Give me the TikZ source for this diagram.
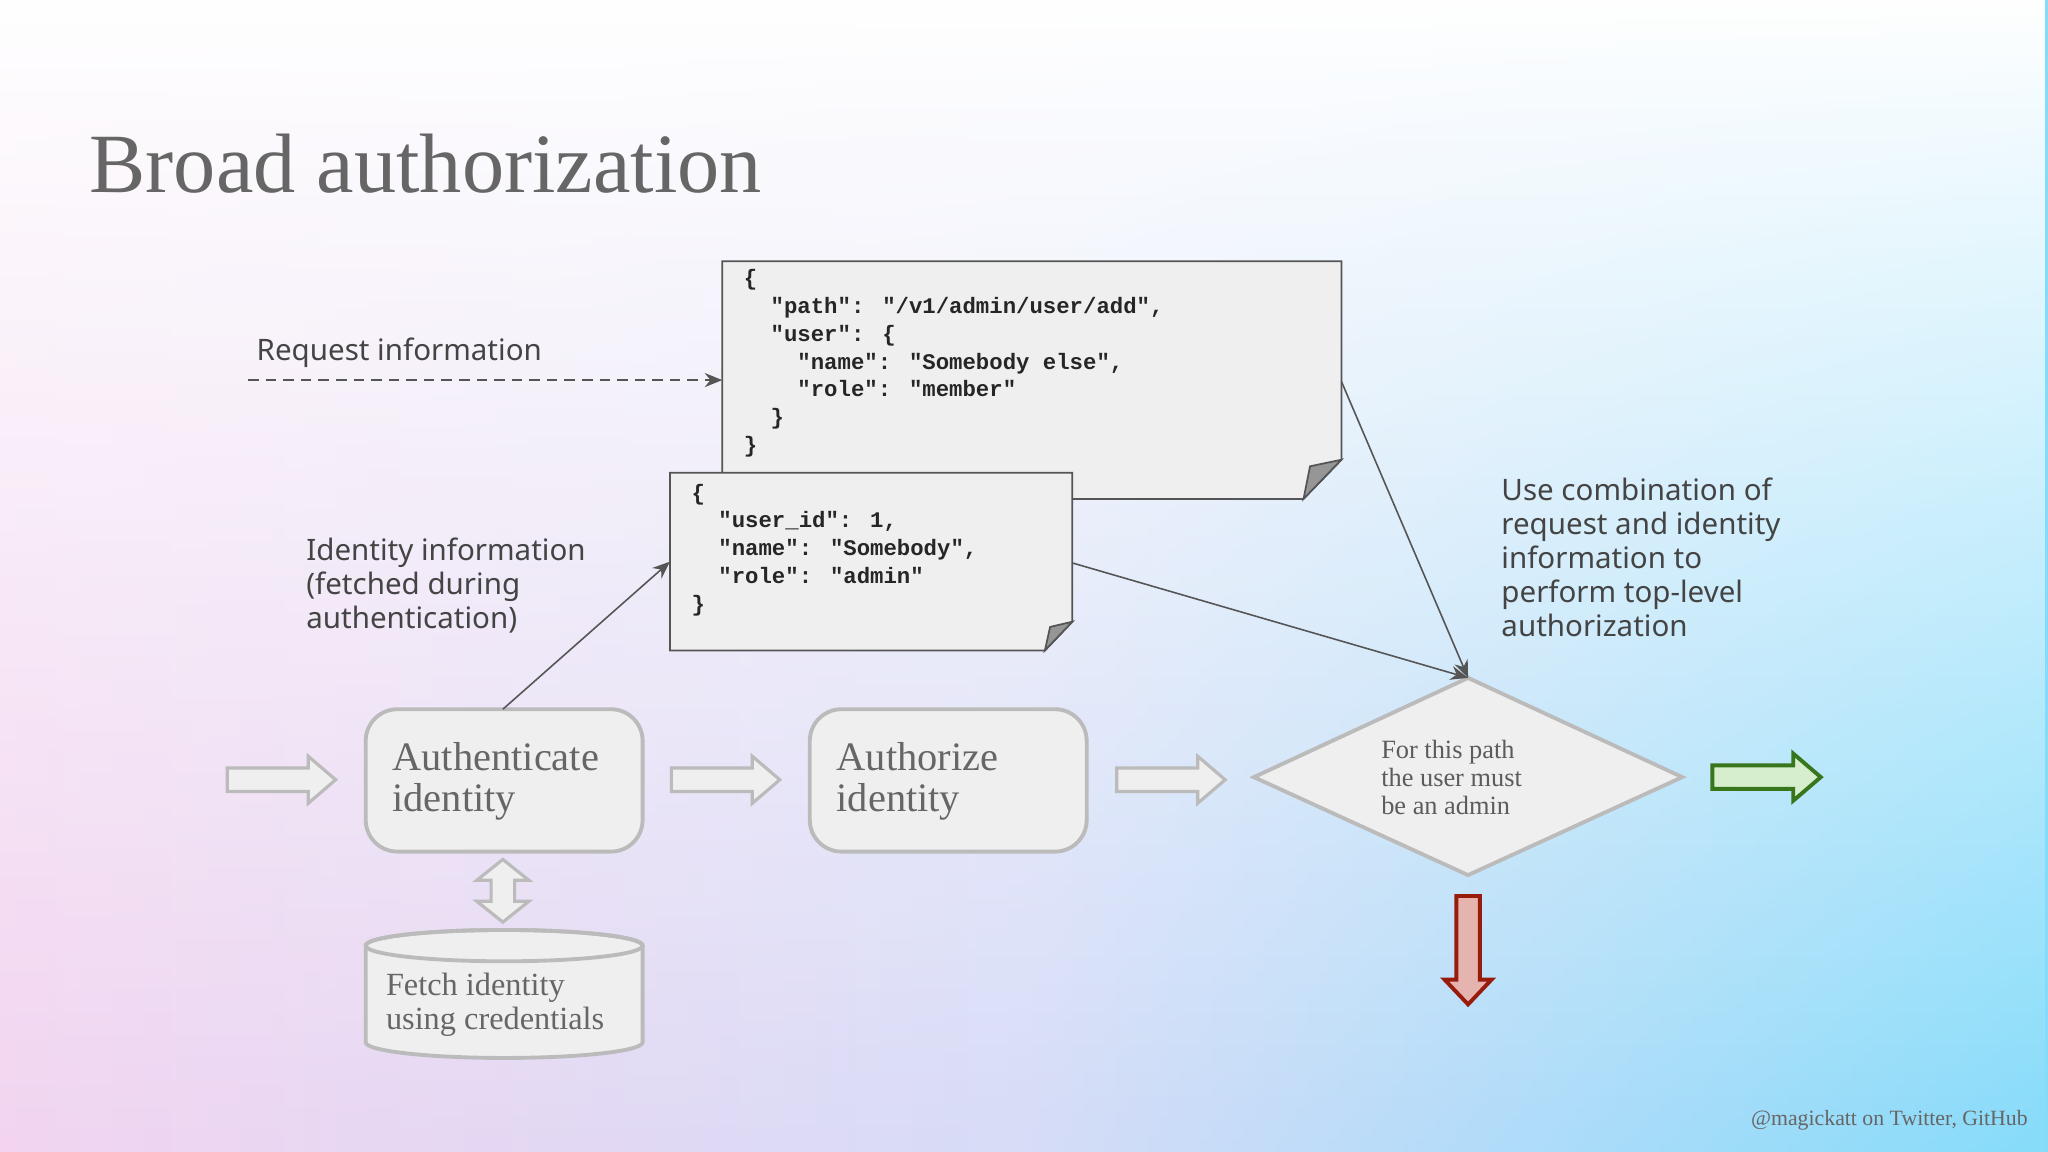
\documentclass[tikz,border=0pt]{standalone}
\usepackage{fontspec}
\setmainfont{Liberation Serif}
\newfontfamily\labsans{Noto Sans}
\newfontfamily\jsonmono{Liberation Mono}
\usetikzlibrary{shapes.geometric,arrows.meta,fadings}
\definecolor{boxfill}{HTML}{EFEFEF}
\definecolor{boxline}{HTML}{BBBBBB}
\definecolor{txtgray}{HTML}{666666}
\definecolor{labgray}{HTML}{444444}
\definecolor{docline}{HTML}{555555}
\definecolor{bgL}{HTML}{F0CDEE}
\definecolor{bgR}{HTML}{70D6FA}
\definecolor{greenfill}{HTML}{D6EECD}
\definecolor{greenline}{HTML}{38761D}
\definecolor{redfill}{HTML}{E6B4AF}
\definecolor{redline}{HTML}{991B0C}
\begin{document}
\begin{tikzpicture}[x=0.01306cm,y=-0.01306cm,
  doc/.style={fill=boxfill,draw=docline,line width=0.5pt},
  json/.style={anchor=north west,inner sep=0,align=left,font=\jsonmono\bfseries\fontsize{6.35}{7.9}\selectfont,text=black!85},
  lab/.style={anchor=north west,inner sep=0,align=left,font=\labsans\fontsize{8.4}{9.7}\selectfont,text=labgray},
  stepbox/.style={fill=boxfill,draw=boxline,line width=1.1pt},
  steptxt/.style={anchor=west,inner sep=0,align=left,font=\fontsize{11.5}{11.6}\selectfont,text=txtgray},
  conn/.style={draw=docline,line width=0.45pt,-{Stealth[length=5pt,width=4pt]}}]
\useasboundingbox (0,0) rectangle (1568,882);
\shade[left color=bgL,right color=bgR,middle color={rgb,255:red,208;green,214;blue,246}] (0,0) rectangle (1568,882);
\fill[white,path fading=south] (0,0) rectangle (1568,882);
\fill[white,opacity=0.15] (0,0) rectangle (1568,882);
% title
\node[anchor=west,inner sep=0,text=txtgray,font=\fontsize{24}{26}\selectfont] (title) at (68,125) {Broad authorization};
% request doc
\path[doc] (553,200) -- (1027,200) -- (1027,352) -- (998,382) -- (553,382) -- cycle;
\path[fill=boxline!80!black,draw=docline,line width=0.5pt] (998,382) -- (1003,357) -- (1027,352) -- cycle;
\node[json] (reqtxt) at (569,206) {\{\\
\hspace*{1.2em}"path": "/v1/admin/user/add",\\
\hspace*{1.2em}"user": \{\\
\hspace*{2.4em}"name": "Somebody else",\\
\hspace*{2.4em}"role": "member"\\
\hspace*{1.2em}\}\\
\}};
\coordinate (reqR) at (1027,292);
\coordinate (reqL) at (553,291);
% identity doc
\path[doc] (513,362) -- (821,362) -- (821,476) -- (800,498) -- (513,498) -- cycle;
\path[fill=boxline!80!black,draw=docline,line width=0.5pt] (800,498) -- (804,480) -- (821,476) -- cycle;
\node[json] (idtxt) at (529,370) {\{\\
\hspace*{1.2em}"user\_id": 1,\\
\hspace*{1.2em}"name": "Somebody",\\
\hspace*{1.2em}"role": "admin"\\
\}};
\coordinate (idL) at (513,430);
\coordinate (idR) at (821,431);
% labels
\node[lab] (reqlab) at (196,258) {Request information};
\coordinate (dashstart) at (190,291);
\draw[conn,dash pattern=on 3pt off 2pt] (dashstart) -- (reqL);
\node[lab] (idlab) at (234,411) {Identity information\\(fetched during\\authentication)};
\node[lab] (uselab) at (1149,365) {Use combination of\\request and identity\\information to\\perform top-level\\authorization};
% steps
\path[stepbox,rounded corners=9pt] (280,543) rectangle (492,652);
\coordinate (authnTop) at (385,543);
\node[steptxt] (authntxt) at (300,598) {Authenticate\\identity};
\path[stepbox,rounded corners=9pt] (620,543) rectangle (832,652);
\node[steptxt] (authztxt) at (640,598) {Authorize\\identity};
% diamond
\path[stepbox] (1124,519) -- (1288,595) -- (1124,670) -- (960,595) -- cycle;
\coordinate (diaTop) at (1124,519);
\node[anchor=west,inner sep=0,align=left,text=txtgray!90!black,font=\fontsize{7.5}{8}\selectfont] (diatxt) at (1057,595) {For this path\\the user must\\be an admin};
% connectors
\draw[conn] (authnTop) -- (idL);
\draw[conn] (reqR) -- (diaTop);
\draw[conn] (idR) -- (diaTop);
% block arrows
\foreach \x in {174,514,855}{
  \path[stepbox,line width=0.9pt] (\x,588) -- (\x+62,588) -- (\x+62,579) -- (\x+83,597) -- (\x+62,615) -- (\x+62,606) -- (\x,606) -- cycle;
}
\path[fill=greenfill,draw=greenline,line width=1.1pt] (1311,586) -- (1373,586) -- (1373,577) -- (1394,595) -- (1373,613) -- (1373,604) -- (1311,604) -- cycle;
\path[fill=redfill,draw=redline,line width=1.1pt] (1115,686) -- (1133,686) -- (1133,750) -- (1142,750) -- (1124,769) -- (1106,750) -- (1115,750) -- cycle;
% double arrow
\path[stepbox,line width=0.9pt] (385,658) -- (405,674) -- (394,674) -- (394,690) -- (405,690) -- (385,706) -- (365,690) -- (376,690) -- (376,674) -- (365,674) -- cycle;
% cylinder
\path[stepbox] (280,724) -- (280,798) arc (180:0:106 and 12) -- (492,724) arc (0:-180:106 and 12) -- cycle;
\draw[boxline,line width=1.1pt] (386,724) ellipse (106 and 12);
\node[anchor=west,inner sep=0,align=left,text=txtgray,font=\fontsize{9.2}{9.7}\selectfont] (cyltxt) at (295,769) {Fetch identity\\using credentials};
% footer
\node[anchor=east,inner sep=0,text=txtgray,font=\fontsize{6.2}{6.5}\selectfont] (foot) at (1553,858) {@magickatt on Twitter, GitHub};
\end{tikzpicture}
\end{document}
